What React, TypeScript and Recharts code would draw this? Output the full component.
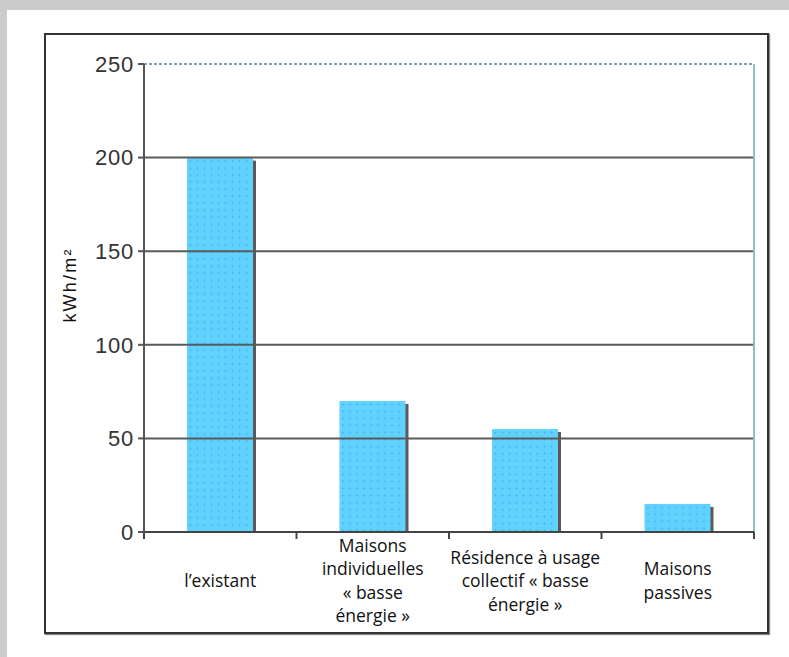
import React from 'react';
import { BarChart, Bar, XAxis, YAxis, ReferenceLine } from 'recharts';

const categories = [
  'l’existant',
  'Maisons\nindividuelles\n« basse\nénergie »',
  'Résidence à usage\ncollectif « basse\nénergie »',
  'Maisons\npassives',
];
const consumption = [200, 70, 55, 15];
const yTicks = [0, 50, 100, 150, 200, 250];
const gridLevels = [50, 100, 150, 200];
const yMax = 250;

const data = categories.map((name, i) => ({ name, value: consumption[i] }));

const CategoryTick = (props: any) => {
  const { x, y, payload, index, visibleTicksCount, width } = props;
  const half = payload.offset || (width || 610) / (visibleTicksCount || 4) / 2;
  const lines = String(payload.value).split('\n');
  const lh = 23.5;
  const axisY = y - 8;
  const cy = axisY + 48;
  return (
    <g>
      <line x1={x + half} x2={x + half} y1={axisY} y2={axisY + 7} stroke="#444" strokeWidth={2} />
      {index === 0 && (
        <line x1={x - half} x2={x - half} y1={axisY} y2={axisY + 7} stroke="#444" strokeWidth={2} />
      )}
      <text textAnchor="middle" fontFamily="Open Sans" fontSize={17.5} fill="#111">
        {lines.map((l, i) => (
          <tspan key={i} x={x} y={cy + (i - (lines.length - 1) / 2) * lh} dominantBaseline="central">
            {l}
          </tspan>
        ))}
      </text>
    </g>
  );
};

const ShadedBar = (props: any) => {
  const { x, y, width, height, index } = props;
  const id = `dots-${index}`;
  return (
    <g>
      <defs>
        <pattern id={id} x={x} y={y} width={7} height={7} patternUnits="userSpaceOnUse">
          <rect width={7} height={7} fill="#5fd2ff" />
          <circle cx={3.5} cy={3.5} r={0.9} fill="#45aee8" />
        </pattern>
      </defs>
      <rect x={x + 3} y={y + 3} width={width} height={Math.max(height - 2, 0)} fill="#5a5a5a" />
      <rect x={x} y={y} width={width} height={height} fill={`url(#${id})`} />
    </g>
  );
};

const YLabel = (props: any) => {
  const vb = props.viewBox || { x: 0, y: 64, width: 144, height: 468 };
  const cx = vb.x + 70;
  const cy = vb.y + vb.height / 2 - 13;
  return (
    <text
      x={cx}
      y={cy}
      transform={`rotate(-90 ${cx} ${cy})`}
      textAnchor="middle"
      dominantBaseline="central"
      fontFamily="Liberation Sans"
      fontSize={18}
      letterSpacing={2.2}
      fill="#111"
    >
      kWh/m²
    </text>
  );
};

export default function App() {
  return (
    <div style={{ position: 'absolute', left: 0, top: 0, width: 789, height: 657, background: '#cccccc', overflow: 'hidden' }}>
      <div style={{ position: 'absolute', left: 7, top: 10, right: 0, bottom: 0, background: '#fff' }} />
      <div
        style={{
          position: 'absolute',
          left: 44,
          top: 33,
          width: 721,
          height: 597,
          border: '2px solid #333',
          boxShadow: '1px 1px 1px #888',
        }}
      />
      <div style={{ position: 'absolute', left: 0, top: 0 }}>
        <BarChart width={789} height={657} data={data} margin={{ top: 64, right: 35, left: 0, bottom: 0 }} barSize={66}>
          <XAxis
            dataKey="name"
            height={125}
            interval={0}
            tickLine={false}
            axisLine={{ stroke: '#444', strokeWidth: 2 }}
            tick={<CategoryTick />}
          />
          <YAxis
            width={144}
            domain={[0, yMax]}
            ticks={yTicks}
            interval={0}
            tickSize={6}
            tickMargin={4}
            axisLine={{ stroke: '#555', strokeWidth: 2 }}
            tickLine={{ stroke: '#555', strokeWidth: 2 }}
            tick={{ fontFamily: 'Liberation Sans', fontSize: 22, fill: '#333', letterSpacing: 0.8 }}
            label={<YLabel />}
          />
          {gridLevels.map((v) => (
            <ReferenceLine key={v} y={v} stroke="#5a5a5a" strokeWidth={2} />
          ))}
          <ReferenceLine y={yMax} stroke="#7f9fb0" strokeWidth={2} strokeDasharray="3 2" />
          <ReferenceLine
            x={categories[categories.length - 1]}
            position="end"
            stroke="#8fbfc0"
            strokeWidth={2}
          />
          <Bar dataKey="value" shape={<ShadedBar />} isAnimationActive={false} />
        </BarChart>
      </div>
    </div>
  );
}
